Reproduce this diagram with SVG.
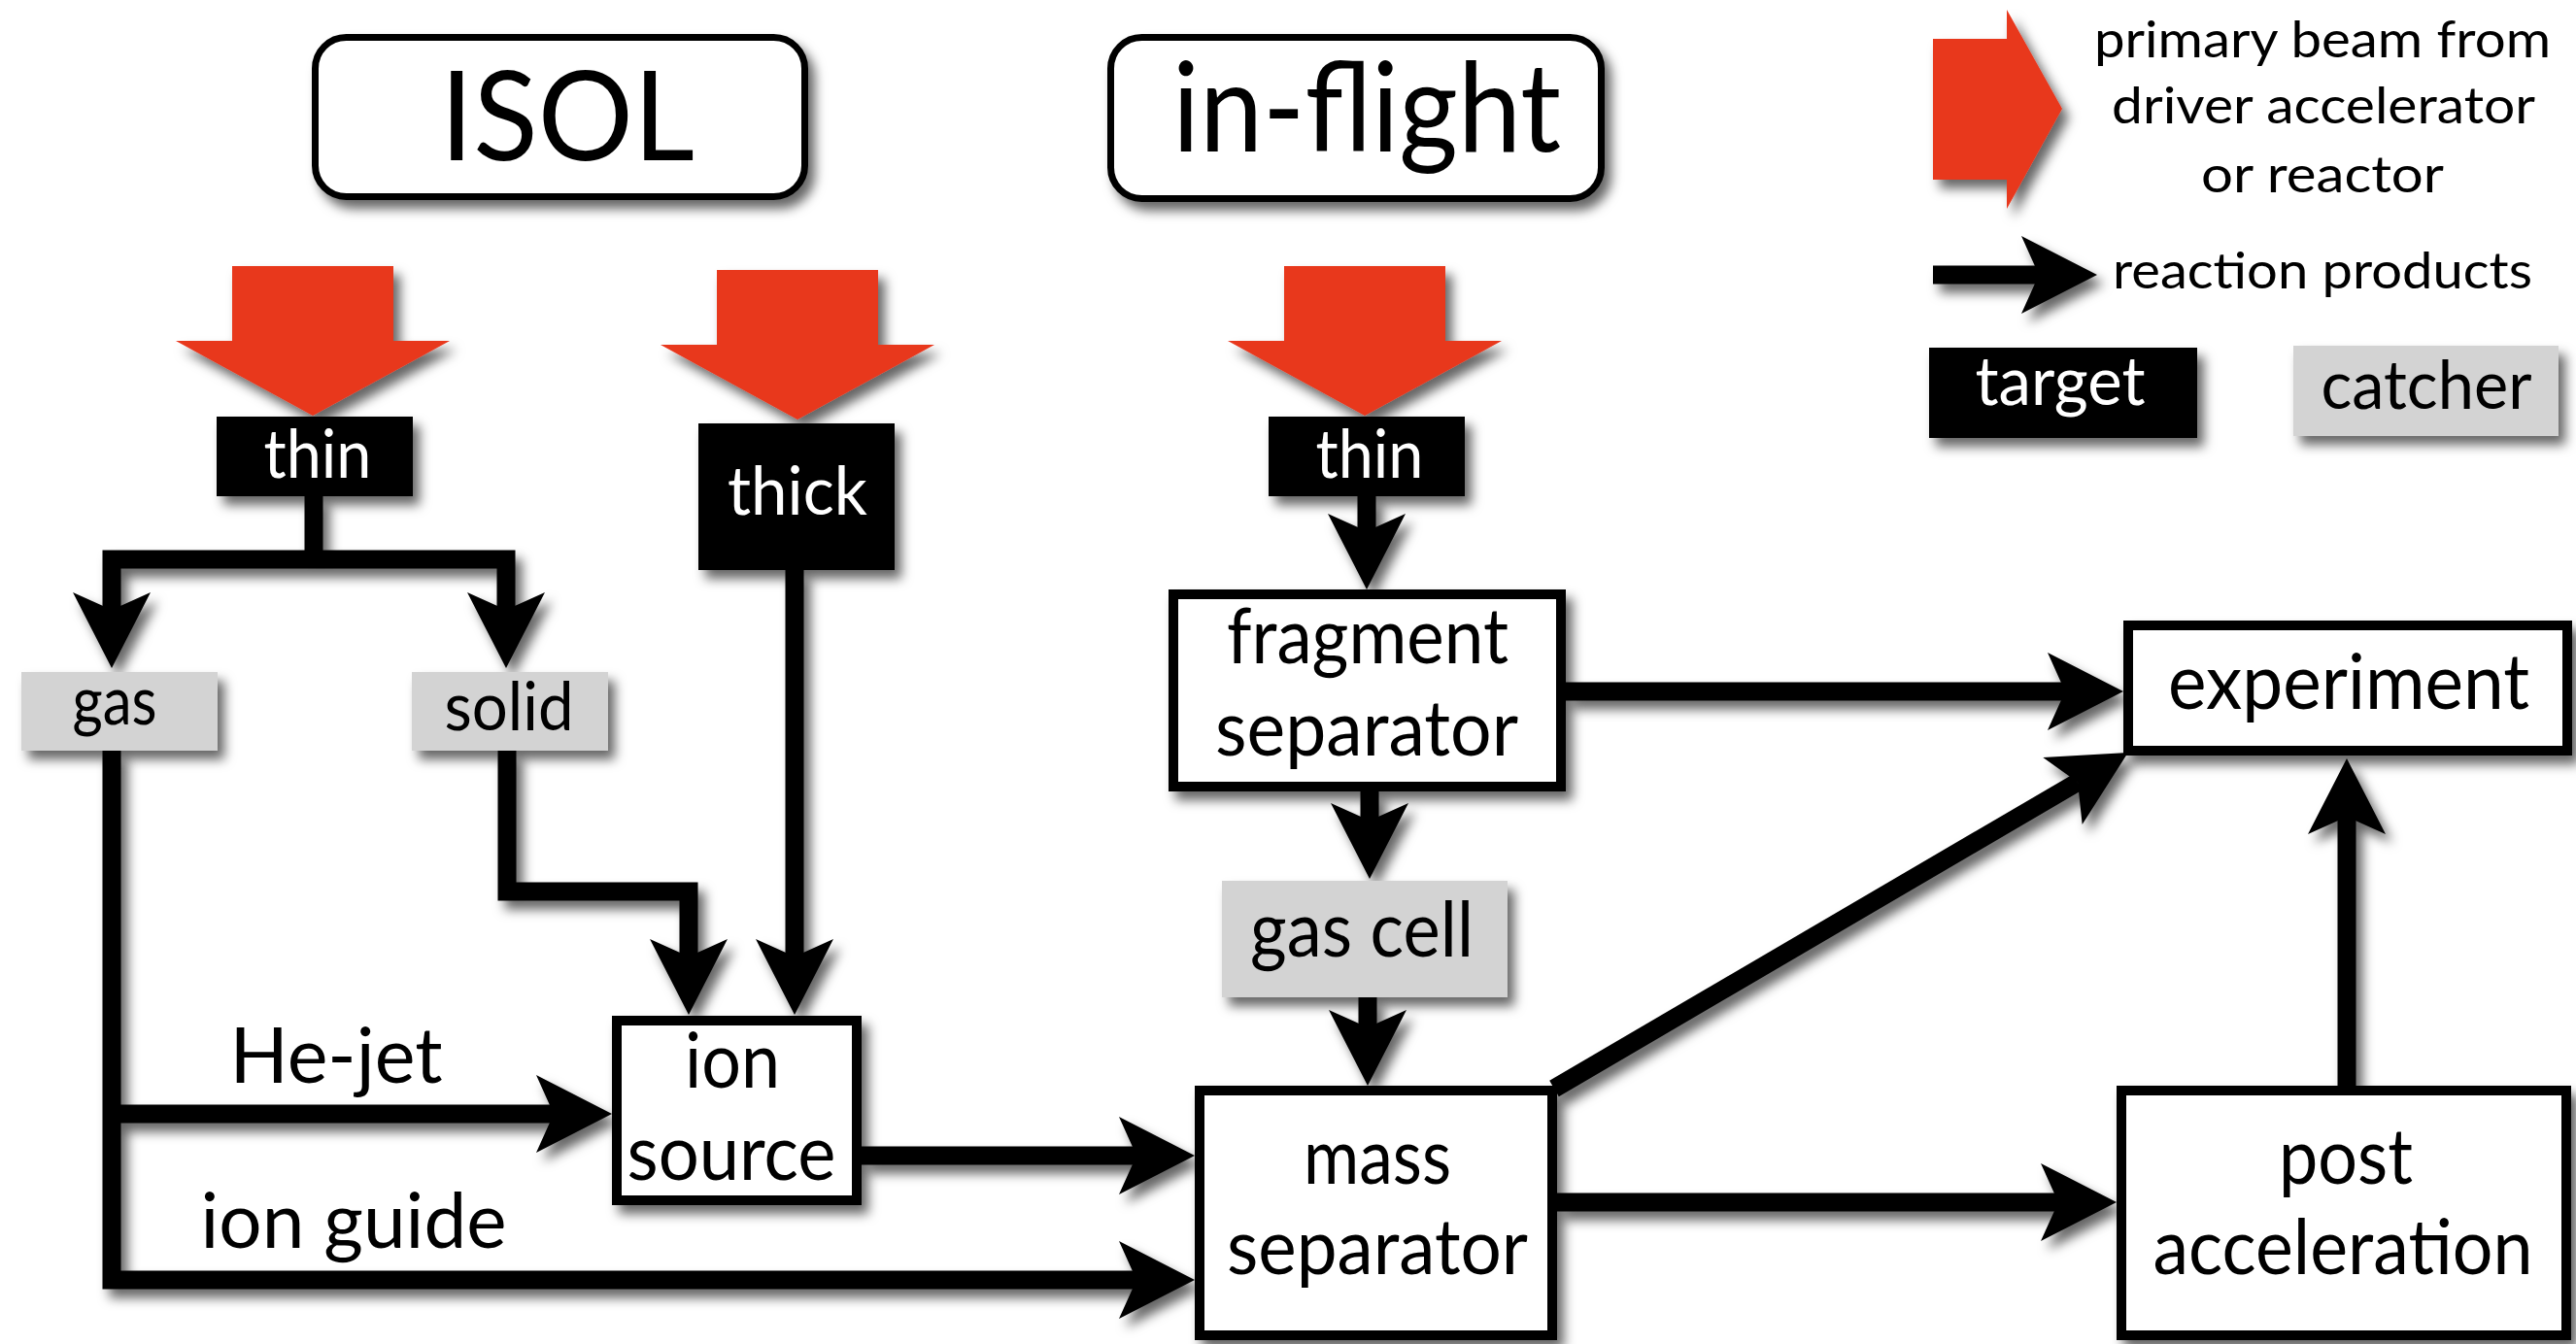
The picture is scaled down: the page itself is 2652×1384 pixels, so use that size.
<svg xmlns="http://www.w3.org/2000/svg" width="2652" height="1384" viewBox="0 0 2652 1384">
<style>
.t{font-family:Lato,"Open Sans","Liberation Sans",sans-serif;fill:#000;text-anchor:middle}
.w{fill:#fff}
.box{fill:#fff;stroke:#000;stroke-width:10}
.rbox{fill:#fff;stroke:#000;stroke-width:7}
.tgt{fill:#000}
.cat{fill:#d3d3d3}
.beam{fill:#e8371f}
.ln{fill:none;stroke:#000;stroke-width:19;stroke-linejoin:miter;marker-end:url(#ah)}
.ln0{fill:none;stroke:#000;stroke-width:19}
.n{font-size:80px}
.s{font-size:70px}
.l{font-size:53px}
.big{font-size:128px}
</style>
<defs>
<filter id="sh" filterUnits="userSpaceOnUse" x="0" y="0" width="2652" height="1384">
<feDropShadow dx="7" dy="9" stdDeviation="6" flood-color="#000" flood-opacity="0.6"/>
</filter>
<marker id="ah" markerUnits="userSpaceOnUse" markerWidth="100" markerHeight="100" viewBox="-20 -45 100 90" refX="0" refY="0" orient="auto" overflow="visible">
<path d="M60,0 L-18,-40 L0,0 L-18,40 Z" fill="#000"/>
</marker>
<path id="beamDown" d="M-83,0 H83 V77 H141 L0,154 L-141,77 H-83 Z"/>
</defs>
<rect width="2652" height="1384" fill="#fff"/>

<g id="connectors" filter="url(#sh)">
<path class="ln0" d="M323,511 V576"/>
<path class="ln" d="M323,576 H115 V628"/>
<path class="ln" d="M323,576 H521 V628"/>
<path class="ln" d="M818,587 V985"/>
<path class="ln" d="M522,773 V918 H709 V985"/>
<path class="ln" d="M115,773 V1318 H1170"/>
<path class="ln" d="M115,1147 H570"/>
<path class="ln" d="M887,1190 H1170"/>
<path class="ln" d="M1407,511 V547"/>
<path class="ln" d="M1410,815 V845"/>
<path class="ln" d="M1408,1027 V1058"/>
<path class="ln" d="M1612,712 H2126"/>
<path class="ln" d="M1600,1121 L2139,805.4"/>
<path class="ln" d="M1603,1238 H2119"/>
<path class="ln" d="M2416,1118 V841"/>
<path class="ln" d="M1990,283 H2099"/>
</g>

<g id="beams" filter="url(#sh)">
<use href="#beamDown" class="beam" transform="translate(322,274)"/>
<use href="#beamDown" class="beam" transform="translate(821,278)"/>
<use href="#beamDown" class="beam" transform="translate(1405,274)"/>
<path class="beam" d="M1990,40 H2066 V10 L2123,112 L2066,215 V185 H1990 Z"/>
</g>

<g id="isol">
<rect class="rbox" x="324.5" y="38.5" width="504" height="164" rx="32" filter="url(#sh)"/>
<text class="t big" x="584" y="165" textLength="262" lengthAdjust="spacingAndGlyphs">ISOL</text>
</g>
<g id="inflight">
<rect class="rbox" x="1143.5" y="38.5" width="505" height="166" rx="32" filter="url(#sh)"/>
<text class="t big" x="1407" y="156" textLength="400" lengthAdjust="spacingAndGlyphs">in-flight</text>
</g>

<g id="thin1">
<rect class="tgt" x="223" y="429" width="202" height="82" filter="url(#sh)"/>
<text class="t s w" x="327" y="492" textLength="111" lengthAdjust="spacingAndGlyphs">thin</text>
</g>
<g id="thick">
<rect class="tgt" x="719" y="436" width="202" height="151" filter="url(#sh)"/>
<text class="t s w" x="821" y="530" textLength="144" lengthAdjust="spacingAndGlyphs">thick</text>
</g>
<g id="thin2">
<rect class="tgt" x="1306" y="429" width="202" height="82" filter="url(#sh)"/>
<text class="t s w" x="1410" y="492" textLength="111" lengthAdjust="spacingAndGlyphs">thin</text>
</g>

<g id="gas">
<rect class="cat" x="22" y="692" width="202" height="81" filter="url(#sh)"/>
<text class="t s" x="118" y="746" textLength="87" lengthAdjust="spacingAndGlyphs">gas</text>
</g>
<g id="solid">
<rect class="cat" x="424" y="692" width="202" height="81" filter="url(#sh)"/>
<text class="t s" x="524" y="752" textLength="133" lengthAdjust="spacingAndGlyphs">solid</text>
</g>

<g id="ionsource">
<rect class="box" x="635" y="1051" width="247" height="185" filter="url(#sh)"/>
<text class="t n" x="754" y="1120" textLength="98" lengthAdjust="spacingAndGlyphs">ion</text>
<text class="t n" x="753" y="1215" textLength="215" lengthAdjust="spacingAndGlyphs">source</text>
</g>

<g id="fragsep">
<rect class="box" x="1208" y="612" width="399" height="198" filter="url(#sh)"/>
<text class="t n" x="1408" y="683" textLength="290" lengthAdjust="spacingAndGlyphs">fragment</text>
<text class="t n" x="1407" y="778" textLength="312" lengthAdjust="spacingAndGlyphs">separator</text>
</g>

<g id="gascell">
<rect class="cat" x="1258" y="907" width="294" height="120" filter="url(#sh)"/>
<text class="t n" x="1402" y="985" textLength="230" lengthAdjust="spacingAndGlyphs">gas cell</text>
</g>

<g id="masssep">
<rect class="box" x="1235" y="1123" width="363" height="252" filter="url(#sh)"/>
<text class="t n" x="1418" y="1219" textLength="152" lengthAdjust="spacingAndGlyphs">mass</text>
<text class="t n" x="1418" y="1312" textLength="310" lengthAdjust="spacingAndGlyphs">separator</text>
</g>

<g id="experiment">
<rect class="box" x="2191" y="644" width="452" height="129" filter="url(#sh)"/>
<text class="t n" x="2418" y="730" textLength="372" lengthAdjust="spacingAndGlyphs">experiment</text>
</g>

<g id="postacc">
<rect class="box" x="2184" y="1123" width="458" height="252" filter="url(#sh)"/>
<text class="t n" x="2415" y="1219" textLength="138" lengthAdjust="spacingAndGlyphs">post</text>
<text class="t n" x="2412" y="1312" textLength="391" lengthAdjust="spacingAndGlyphs">acceleration</text>
</g>

<g id="labels">
<text class="t n" x="346" y="1115" textLength="219" lengthAdjust="spacingAndGlyphs">He-jet</text>
<text class="t n" x="364" y="1285" textLength="315" lengthAdjust="spacingAndGlyphs">ion guide</text>
</g>

<g id="legend">
<text class="t l" x="2391" y="59" textLength="470" lengthAdjust="spacingAndGlyphs">primary beam from</text>
<text class="t l" x="2392" y="127" textLength="436" lengthAdjust="spacingAndGlyphs">driver accelerator</text>
<text class="t l" x="2391" y="198" textLength="250" lengthAdjust="spacingAndGlyphs">or reactor</text>
<text class="t l" x="2391" y="297" textLength="432" lengthAdjust="spacingAndGlyphs">reaction products</text>
<rect class="tgt" x="1986" y="358" width="276" height="93" filter="url(#sh)"/>
<text class="t s w" x="2121" y="417" textLength="175" lengthAdjust="spacingAndGlyphs">target</text>
<rect class="cat" x="2361" y="356" width="273" height="93" filter="url(#sh)"/>
<text class="t s" x="2498" y="421" textLength="217" lengthAdjust="spacingAndGlyphs">catcher</text>
</g>
</svg>
